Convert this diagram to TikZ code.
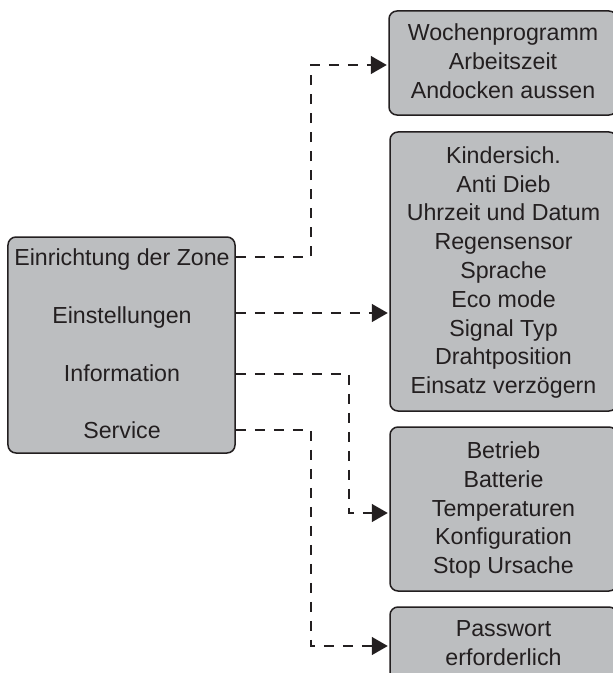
\documentclass[tikz,border=0pt]{standalone}
\usepackage{fontspec}
\setmainfont{Liberation Sans}
\usetikzlibrary{arrows.meta}
\definecolor{ink}{HTML}{231F20}
\definecolor{panel}{HTML}{BCBEC0}
\tikzset{
  panelbox/.style={draw=ink,fill=panel,line width=1.5bp,rounded corners=8bp,inner sep=0pt},
  boxtext/.style={text=ink,align=center,inner sep=0pt,font=\fontsize{23.2bp}{28.8bp}\selectfont},
  rowtext/.style={anchor=base,text=ink,inner sep=0pt,font=\fontsize{23.2bp}{28.8bp}\selectfont},
  conn/.style={draw=ink,line width=1.5bp,dash pattern=on 10bp off 9bp,
    -{Triangle[length=16bp,width=18bp]},shorten >=1.5bp}
}
\begin{document}
\begin{tikzpicture}[x=1bp,y=-1bp]
\useasboundingbox (0,0) rectangle (613,673);
\clip (0,0) rectangle (613,673);
\node[panelbox,minimum width=227bp,minimum height=216bp] (menu) at (121.5,345) {};
\node[rowtext] (zone) at (122,265) {Einrichtung der Zone};
\node[rowtext] (settings) at (122,323) {Einstellungen};
\node[rowtext] (info) at (122,381) {Information};
\node[rowtext] (service) at (122,438) {Service};
\node[panelbox,minimum width=228bp,minimum height=104bp] (week) at (503,63) {};
\node[boxtext] (weektext) at (503,61.5) {Wochenprogramm\\Arbeitszeit\\Andocken aussen};
\node[panelbox,minimum width=227bp,minimum height=279bp] (setup) at (503.5,271.5) {};
\node[boxtext] (setuptext) at (503.5,272.5) {Kindersich.\\Anti Dieb\\Uhrzeit und Datum\\Regensensor\\Sprache\\Eco mode\\Signal Typ\\Drahtposition\\Einsatz verzögern};
\node[panelbox,minimum width=227bp,minimum height=164bp] (status) at (503.5,509) {};
\node[boxtext] (statustext) at (503.5,510) {Betrieb\\Batterie\\Temperaturen\\Konfiguration\\Stop Ursache};
\node[panelbox,minimum width=227bp,minimum height=88bp] (pass) at (503.5,651) {};
\node[boxtext] (passtext) at (503.5,643) {Passwort\\erforderlich};
\draw[conn] (menu.east |- 0,257) -- (311,257) -- (311,65) -- (week.west |- 0,65);
\draw[conn] (menu.east |- 0,313) -- (setup.west |- 0,313);
\draw[conn] (menu.east |- 0,374) -- (349,374) -- (349,513) -- (status.west |- 0,513);
\draw[conn] (menu.east |- 0,430) -- (311,430) -- (311,646) -- (pass.west |- 0,646);
\end{tikzpicture}
\end{document}
